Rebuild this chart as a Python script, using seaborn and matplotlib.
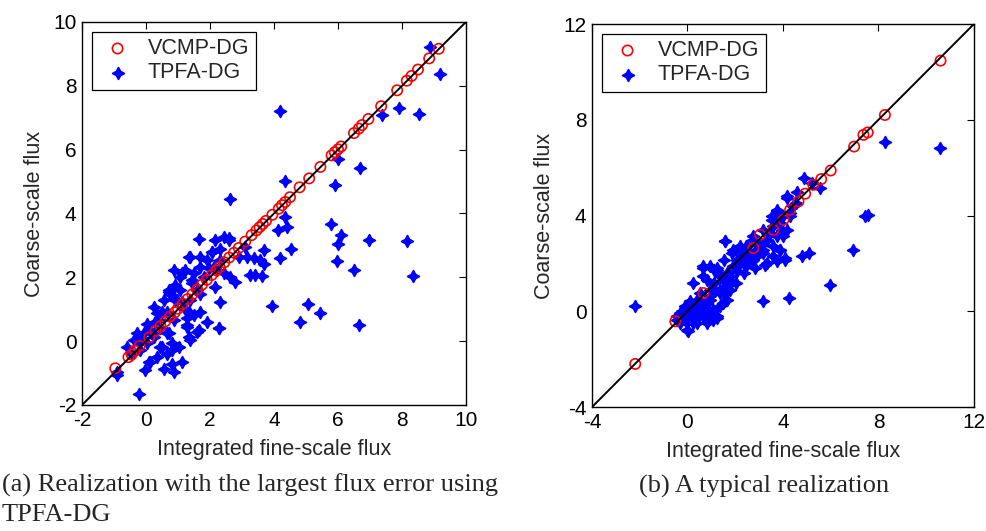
import numpy as np
import pandas as pd
import matplotlib
matplotlib.use("Agg")
import matplotlib.pyplot as plt
import seaborn as sns

# ---- panel (a): realization with the largest TPFA-DG flux error ----
vcmp_a_x = [-0.96, -0.55, -0.45, -0.35, -0.2, 0.1, 0.3, 0.45, 0.6, 0.75, 0.9, 1.0,
            1.15, 1.3, 1.45, 1.6, 1.75, 1.9, 2.05, 2.2, 2.3, 2.45, 2.6, 2.75, 2.9,
            3.1, 3.3, 3.45, 3.55, 3.65, 3.75, 3.95, 4.15, 4.25, 4.35, 4.5, 4.8,
            5.1, 5.45, 5.8, 5.9, 6.0, 6.1, 6.5, 6.65, 6.75, 6.95, 7.35, 7.85,
            8.15, 8.3, 8.5, 8.85, 9.15]
vcmp_a_y = [-0.85, -0.5, -0.42, -0.3, -0.15, 0.12, 0.32, 0.47, 0.62, 0.77, 0.9, 1.02,
            1.17, 1.32, 1.47, 1.62, 1.77, 1.92, 2.07, 2.22, 2.32, 2.47, 2.62, 2.77, 2.92,
            3.12, 3.32, 3.47, 3.57, 3.67, 3.77, 3.96, 4.15, 4.26, 4.36, 4.51, 4.82,
            5.1, 5.46, 5.82, 5.92, 6.01, 6.1, 6.52, 6.66, 6.77, 6.96, 7.36, 7.86,
            8.16, 8.31, 8.51, 8.86, 9.16]

tpfa_a_x = [8.89, 9.18, 4.20, 7.90, 8.52, 7.38, 5.99, 6.70, 5.90, 4.33, 2.61, 5.78,
            6.09, 5.99, 6.96, 8.16, 5.97, 6.49, 8.34, 3.94, 5.06, 5.45, 4.82, 6.67,
            4.35, 4.41, 4.53, 4.20, 4.11, 3.68, 3.57, 3.36, 3.68, 3.26, 3.62, 3.41,
            3.16, 2.90, 3.10, 2.79, 2.32, 2.27, 2.58, 2.43, 2.17, 2.32, 1.67, 1.39,
            2.06, 1.96, 2.22, 2.43, 2.64, 2.17, 1.70, 1.70, 1.91, 1.28, 1.59, 1.39,
            0.76, 0.97, 0.92, 1.07, 1.23, 1.44, 0.86, 0.71, 0.55, 0.34, 0.03, 0.45,
            0.66, 0.81, 1.13, 0.86, 0.55, 0.14, -0.02, -0.23, -0.91, -0.18, -0.39,
            -0.28, 0.03, 0.24, 0.45, 0.66, 0.34, -0.59, 0.19, 0.40, 1.23, 1.80, 1.39,
            1.34, 1.49, 1.70, 2.11, 1.49, 1.07, 1.13, 1.59, 1.28, 0.86, 1.70, 1.91,
            2.32, 0.66, 0.24, -0.07, -0.44, -0.23,
            1.33, 1.13, 1.44, 0.71, 0.92, 0.50, 0.29, 0.08, -0.13, 0.50, 0.81, 1.02,
            0.71, 1.28, 1.33, 1.65, 2.27, 0.08, 0.81, -0.91, 2.58, 2.06]
tpfa_a_y = [9.22, 8.38, 7.20, 7.29, 7.13, 7.08, 5.72, 5.41, 4.89, 5.01, 4.45, 3.66,
            3.34, 3.03, 3.18, 3.13, 2.51, 2.24, 2.04, 1.10, 1.16, 0.87, 0.61, 0.50,
            3.89, 3.58, 2.90, 2.59, 3.48, 2.85, 2.54, 2.59, 2.43, 2.07, 2.04, 2.07,
            2.64, 2.64, 2.95, 1.84, 1.23, 0.40, 3.22, 3.27, 3.18, 2.90, 3.19, 2.64,
            2.80, 2.28, 2.22, 2.12, 2.01, 1.70, 1.49, 0.92, 0.61, 0.50, 0.29, 0.03,
            1.49, 1.28, 1.75, 2.01, 2.22, 1.81, 2.22, 1.60, 1.28, 0.87, 0.55, 0.40,
            0.24, -0.28, -0.65, -0.96, -0.86, -0.65, -0.91, -1.64, -0.96, -0.28, 0.03,
            0.24, -0.07, 0.13, -0.18, -0.39, -0.49, -0.18, 0.24, 0.66, 1.02, 2.01, 1.28,
            0.92, 0.82, 2.33, 2.33, 2.12, 1.60, 1.23, 1.60, 0.71, 0.66, 2.64, 2.54,
            2.54, 0.92, 1.08, 0.24, -0.39, -0.07,
            2.64, 2.12, 1.91, 1.55, 1.29, 0.92, 0.61, 0.35, 0.08, -0.18, -0.07, -0.18,
            0.24, 0.45, 0.14, 0.35, 0.40, -0.65, -0.70, -1.07, 3.17, 2.80]

# ---- panel (b): a typical realization ----
vcmp_b_x = [10.60, 8.27, 7.55, 7.37, 6.98, 6.00, 5.60, 5.27, 4.93, 4.65, 4.30, 4.02,
            3.60, 3.04, 2.76, 0.67, -0.51, -2.19]
vcmp_b_y = [10.47, 8.20, 7.47, 7.37, 6.88, 5.88, 5.52, 5.28, 4.91, 4.59, 4.24, 3.82,
            3.40, 3.20, 2.64, 0.76, -0.42, -2.20]

tpfa_b_x = [10.57, 8.27, 7.44, 7.58, 6.95, 5.97, 4.26, 3.15, -2.19, 0.02, 4.86, 5.55,
            5.07, 4.79, 4.16, 4.58, 5.20, 4.09, 3.74, 3.25, 2.81, 4.02, 3.88, 3.60,
            3.32, 3.74, 4.30, 3.95, 3.53, 1.58, 0.67, 1.23, 1.79, 2.07, 2.35, 2.62,
            2.90, 3.18, 2.21, 1.86, 1.51, 1.09, 1.37, 0.81, 0.25, 0.53, 0.95, 1.37,
            1.65, 1.37, 1.23, 0.81, 0.39, 0.11, -0.30, -0.44, -0.09, 0.25, 0.81, 0.39,
            0.11, 0.67, 2.07, 2.49, 1.93, 1.65, 1.09, 0.67, 1.51, 1.79, 2.35, 3.04,
            2.76, 2.49, 0.95, 0.02, 0.39, 0.95,
            -0.46, -0.18, -0.32, 0.03, -0.04, 0.24, 0.38, 0.52, 0.66, 0.80, 0.52, 0.80,
            0.94, 1.08, 1.22, 1.15, 1.36, 1.50, 1.64, 0.66, 0.94, 1.22, 1.50, 1.77,
            1.91, 2.05, 2.19, 2.33, 2.47, 2.61, 2.75, 2.89, 3.03, 3.17, 3.31, 3.45,
            3.59, 3.73, 3.87, 4.01, 4.15, 4.29, 4.42, 4.56, 1.57, 1.91, 2.19, 3.31,
            3.59, 3.87, 4.08, 1.08, 0.24, -0.11, 4.15, 2.47, 2.75, 3.17, 3.52, 3.73]
tpfa_b_y = [6.81, 7.05, 3.99, 4.03, 2.57, 1.11, 0.55, 0.44, 0.23, -0.81, 5.56, 5.14,
            2.43, 2.29, 4.80, 5.00, 5.35, 2.15, 2.08, 1.94, 1.81, 3.13, 2.57, 2.71,
            2.99, 4.10, 3.96, 3.40, 3.82, 2.92, 1.87, 1.80, 1.32, 1.67, 2.22, 2.43,
            2.29, 2.43, 2.71, 2.43, 2.15, 1.74, 1.46, 1.32, 1.18, 0.76, 0.90, 0.90,
            0.48, 0.21, -0.28, -0.14, -0.28, 0.00, -0.07, -0.35, -0.35, -0.49, 0.34, 0.48,
            0.41, 1.46, 2.15, 2.01, 1.87, 1.60, 1.18, 0.21, 0.76, 0.90, 1.60, 2.71,
            2.99, 2.71, 0.48, -0.07, 0.00, -0.07,
            -0.21, -0.07, -0.49, -0.35, -0.77, -0.21, -0.49, 0.07, -0.21, -0.49, 0.49, 0.35,
            0.62, 0.07, -0.21, 0.90, 0.76, 0.35, 1.04, 1.81, 1.88, 1.74, 1.32, 1.46,
            1.88, 1.18, 2.02, 2.29, 1.88, 2.43, 2.15, 2.57, 2.85, 2.57, 2.99, 3.27,
            3.55, 3.13, 3.68, 3.96, 3.41, 4.10, 4.38, 4.52, 2.92, 2.57, 2.57, 2.02,
            2.29, 2.57, 2.22, -0.35, 0.21, 0.21, 4.73, 2.71, 3.13, 3.41, 3.96, 4.24]

panels = [
    dict(vx=vcmp_a_x, vy=vcmp_a_y, tx=tpfa_a_x, ty=tpfa_a_y, lim=(-2, 10),
         ticks=[-2, 0, 2, 4, 6, 8, 10], rect=[0.0831, 0.2373, 0.389, 0.7213]),
    dict(vx=vcmp_b_x, vy=vcmp_b_y, tx=tpfa_b_x, ty=tpfa_b_y, lim=(-4, 12),
         ticks=[-4, 0, 4, 8, 12], rect=[0.5998, 0.2335, 0.387, 0.7213]),
]

sns.set_style("white")
plt.rcParams['font.family'] = ['Liberation Sans', 'DejaVu Sans']
plt.rcParams['axes.unicode_minus'] = False

fig = plt.figure(figsize=(9.87, 5.31), dpi=100)

star = (4, 1, 0)
for p in panels:
    ax = fig.add_axes(p["rect"])
    tpfa = pd.DataFrame({"x": p["tx"], "y": p["ty"]})
    vcmp = pd.DataFrame({"x": p["vx"], "y": p["vy"]})
    sns.scatterplot(data=tpfa, x="x", y="y", ax=ax, marker=star, color="blue",
                    edgecolor="blue", linewidth=1.3, s=70, label="TPFA-DG", zorder=2)
    sns.scatterplot(data=vcmp, x="x", y="y", ax=ax, marker="o", facecolors="none",
                    edgecolor="red", linewidth=1.2, s=55, label="VCMP-DG", zorder=3)
    lo, hi = p["lim"]
    ax.plot([lo, hi], [lo, hi], color="black", lw=1.4, zorder=4)
    ax.set_xlim(lo, hi)
    ax.set_ylim(lo, hi)
    ax.set_xticks(p["ticks"])
    ax.set_yticks(p["ticks"])
    ax.tick_params(direction="in", length=5, width=0.8, top=True, right=True,
                   labelsize=15, colors="black", pad=4)
    for s in ax.spines.values():
        s.set_color("black")
        s.set_linewidth(1.0)
    ax.set_xlabel("Integrated fine-scale flux", fontsize=15.5, labelpad=7)
    ax.set_ylabel("Coarse-scale flux", fontsize=15.5, labelpad=6)
    h, l = ax.get_legend_handles_labels()
    leg = ax.legend(h[::-1], l[::-1], loc="upper left", fontsize=15.5, frameon=True,
                    fancybox=False, edgecolor="black", framealpha=1,
                    borderaxespad=0.45, handletextpad=0.5, borderpad=0.3,
                    labelspacing=0.15, handlelength=1.8)
    leg.get_frame().set_linewidth(0.9)

serif = ['Liberation Serif', 'DejaVu Serif']
fig.text(0.002, 0.087, "(a) Realization with the largest flux error using",
         family=serif, fontsize=19, ha="left", va="center")
fig.text(0.002, 0.030, "TPFA-DG", family=serif, fontsize=19, ha="left", va="center")
fig.text(0.774, 0.083, "(b) A typical realization", family=serif, fontsize=19,
         ha="center", va="center")

fig.savefig("out.png", dpi=100)
